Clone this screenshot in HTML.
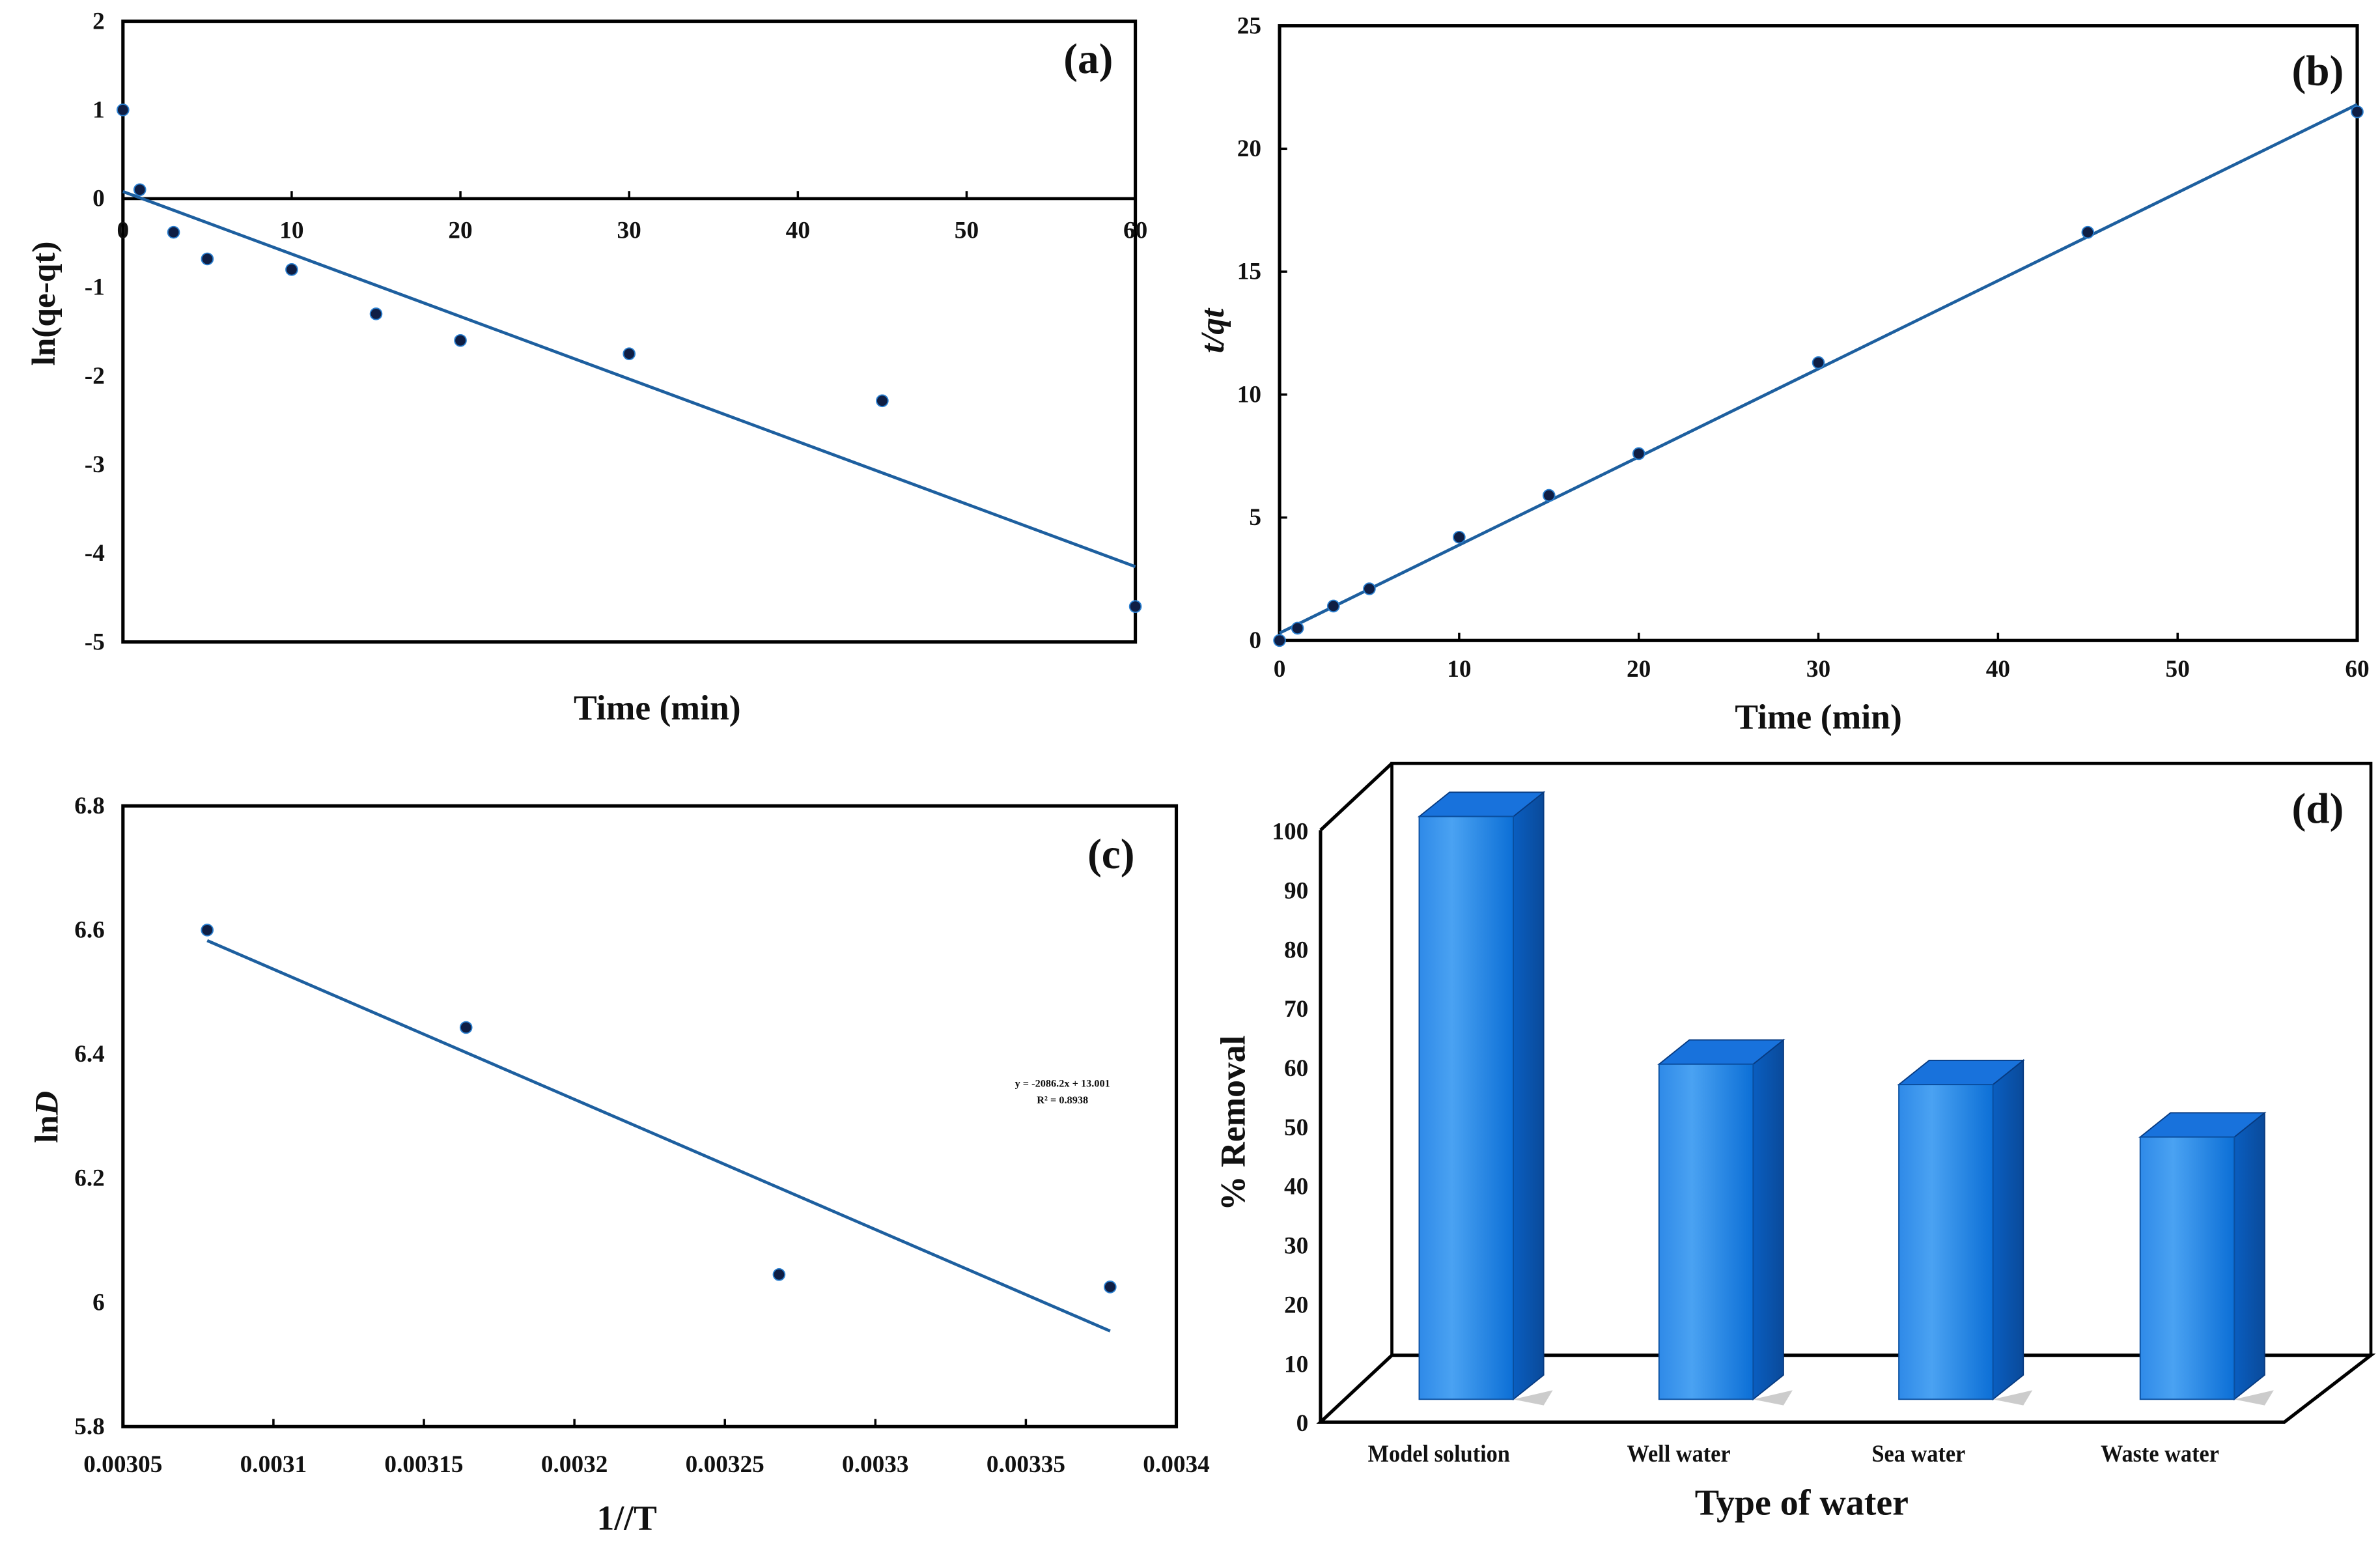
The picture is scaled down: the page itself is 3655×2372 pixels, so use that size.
<!DOCTYPE html>
<html><head><meta charset="utf-8"><style>
html,body{margin:0;padding:0;background:#fff;}
svg{display:block;}
text{font-family:"Liberation Serif",serif;font-weight:bold;fill:#111;}
</style></head><body>
<svg id="fig" width="3655" height="2372" viewBox="0 0 1568 1018" preserveAspectRatio="none" xmlns="http://www.w3.org/2000/svg">
<defs>
<linearGradient id="gf" x1="0" y1="0" x2="1" y2="0"><stop offset="0" stop-color="#2f8ae8"/><stop offset="0.35" stop-color="#4aa2f2"/><stop offset="1" stop-color="#0c6fd6"/></linearGradient>
<linearGradient id="gs" x1="0" y1="0" x2="1" y2="0"><stop offset="0" stop-color="#0a5ec0"/><stop offset="1" stop-color="#0a4a9a"/></linearGradient>
</defs>
<g id="pa"></g>
<g id="pb"></g>
<g id="pc"></g>
<g id="pd"></g>
</svg>
<script>
// Panel (a)
const aTimes=[0,1,3,5,10,15,20,30,45,60];
const aValues=[1,0.1,-0.38,-0.68,-0.8,-1.3,-1.6,-1.75,-2.28,-4.6];
const aFitX=[0,60];
const aFitY=[0.08,-4.15];
const aYTicks=[2,1,0,-1,-2,-3,-4,-5];
const aXTicks=[0,10,20,30,40,50,60];
// Panel (b)
const bTimes=[0,1,3,5,10,15,20,30,45,60];
const bValues=[0,0.5,1.4,2.1,4.2,5.9,7.6,11.3,16.6,21.5];
const bFitX=[0,60];
const bFitY=[0.3,21.8];
const bYTicks=[0,5,10,15,20,25];
const bXTicks=[0,10,20,30,40,50,60];
// Panel (c)
const cX=[0.003078,0.003164,0.003268,0.003378];
const cY=[6.6,6.443,6.045,6.025];
const cFitX=[0.003078,0.003378];
const cFitY=[6.583,5.954];
const cYTicks=[5.8,6,6.2,6.4,6.6,6.8];
const cYTickLabels=["5.8","6","6.2","6.4","6.6","6.8"];
const cXTicks=[0.00305,0.0031,0.00315,0.0032,0.00325,0.0033,0.00335,0.0034];
const cXTickLabels=["0.00305","0.0031","0.00315","0.0032","0.00325","0.0033","0.00335","0.0034"];
// Panel (d)
const dCategories=["Model solution","Well water","Sea water","Waste water"];
const dValues=[100,57.5,54,45];
const dYTicks=[0,10,20,30,40,50,60,70,80,90,100];

const NS="http://www.w3.org/2000/svg";
function mk(parent,tag,attrs,txt){const e=document.createElementNS(NS,tag);for(const k in attrs)e.setAttribute(k,attrs[k]);if(txt!==undefined)e.textContent=txt;parent.appendChild(e);return e;}
function lin(d0,d1,r0,r1){return v=>r0+(v-d0)*(r1-r0)/(d1-d0);}

// ---------- Panel A ----------
(function(){
const g=document.getElementById('pa');
const L=81,R=748,T=14,B=423;
const x=lin(0,60,L,R), y=lin(2,-5,T,B);
let e=mk(g,'rect',{x:L,y:T,width:R-L,height:B-T,fill:'none',stroke:'#000','stroke-width':2.2});

e=mk(g,'line',{x1:L,x2:R,y1:y(0),y2:y(0),stroke:'#000','stroke-width':2});

aYTicks.forEach(v=>{e=mk(g,'text',{x:L-12,y:y(v)+5,'text-anchor':'end','font-size':16},String(v));
});
aXTicks.forEach(v=>{mk(g,'line',{x1:x(v),x2:x(v),y1:y(0),y2:y(0)-5,stroke:'#000','stroke-width':1.5});
e=mk(g,'text',{x:x(v),y:y(0)+26,'text-anchor':'middle','font-size':16},v);
});
e=mk(g,'line',{x1:x(aFitX[0]),y1:y(aFitY[0]),x2:x(aFitX[1]),y2:y(aFitY[1]),stroke:'#1d5f9f','stroke-width':2});

aTimes.forEach((t,i)=>{e=mk(g,'circle',{cx:x(t),cy:y(aValues[i]),r:3.8,fill:'#0f1e44',stroke:'#2a7fd0','stroke-width':0.8});
});
e=mk(g,'text',{x:36,y:200,'text-anchor':'middle','font-size':22,transform:'rotate(-90 36 200)'},'ln(qe-qt)');

e=mk(g,'text',{x:433,y:474,'text-anchor':'middle','font-size':23},'Time (min)');

e=mk(g,'text',{x:717,y:48,'text-anchor':'middle','font-size':28},'(a)');

})();

// ---------- Panel B ----------
(function(){
const g=document.getElementById('pb');
const L=843,R=1553,T=17,B=422;
const x=lin(0,60,L,R), y=lin(0,25,B,T);
let e=mk(g,'rect',{x:L,y:T,width:R-L,height:B-T,fill:'none',stroke:'#000','stroke-width':2.2});

bYTicks.forEach(v=>{mk(g,'line',{x1:L,x2:L+5,y1:y(v),y2:y(v),stroke:'#000','stroke-width':1.5});
e=mk(g,'text',{x:L-12,y:y(v)+5,'text-anchor':'end','font-size':16},v);
});
bXTicks.forEach(v=>{mk(g,'line',{x1:x(v),x2:x(v),y1:B,y2:B-5,stroke:'#000','stroke-width':1.5});
e=mk(g,'text',{x:x(v),y:B+24,'text-anchor':'middle','font-size':16},v);
});
e=mk(g,'line',{x1:x(bFitX[0]),y1:y(bFitY[0]),x2:x(bFitX[1]),y2:y(bFitY[1]),stroke:'#1d5f9f','stroke-width':2});

bTimes.forEach((t,i)=>{e=mk(g,'circle',{cx:x(t),cy:y(bValues[i]),r:3.8,fill:'#0f1e44',stroke:'#2a7fd0','stroke-width':0.8});
});
e=mk(g,'text',{x:806,y:218,'text-anchor':'middle','font-size':22,'font-style':'italic',transform:'rotate(-90 806 218)'},'t/qt');

e=mk(g,'text',{x:1198,y:480,'text-anchor':'middle','font-size':23},'Time (min)');

e=mk(g,'text',{x:1527,y:56,'text-anchor':'middle','font-size':28},'(b)');

})();

// ---------- Panel C ----------
(function(){
const g=document.getElementById('pc');
const L=81,R=775,T=531,B=940;
const x=lin(0.00305,0.0034,L,R), y=lin(5.8,6.8,B,T);
let e=mk(g,'rect',{x:L,y:T,width:R-L,height:B-T,fill:'none',stroke:'#000','stroke-width':2.2});

cYTicks.forEach((v,i)=>{e=mk(g,'text',{x:L-12,y:y(v)+5,'text-anchor':'end','font-size':16},cYTickLabels[i]);
});
cXTicks.forEach((v,i)=>{mk(g,'line',{x1:x(v),x2:x(v),y1:B,y2:B-5,stroke:'#000','stroke-width':1.5});
e=mk(g,'text',{x:x(v),y:B+30,'text-anchor':'middle','font-size':16},cXTickLabels[i]);
});
e=mk(g,'line',{x1:x(cFitX[0]),y1:y(cFitY[0]),x2:x(cFitX[1]),y2:y(cFitY[1]),stroke:'#1d5f9f','stroke-width':2});

cX.forEach((t,i)=>{e=mk(g,'circle',{cx:x(t),cy:y(cY[i]),r:3.8,fill:'#0f1e44',stroke:'#2a7fd0','stroke-width':0.8});
});
e=mk(g,'text',{x:700,y:716,'text-anchor':'middle','font-size':7,'font-weight':'normal'},'y = -2086.2x + 13.001');

e=mk(g,'text',{x:700,y:727,'text-anchor':'middle','font-size':7,'font-weight':'normal'},'R² = 0.8938');

e=mk(g,'text',{x:38,y:736,'text-anchor':'middle','font-size':22,transform:'rotate(-90 38 736)'},'ln');

mk(e,'tspan',{'font-style':'italic'},'D');
e=mk(g,'text',{x:413,y:1008,'text-anchor':'middle','font-size':23},'1//T');

e=mk(g,'text',{x:732,y:572,'text-anchor':'middle','font-size':28},'(c)');

})();

// ---------- Panel D ----------
(function(){
const g=document.getElementById('pd');
const fl=870, fb=937, ft=547, dx=47, dy=-44, fr=1505;
const y=lin(0,100,fb,ft);
let e=mk(g,'path',{d:`M${fl+dx},${fb+dy} L${fl+dx},${ft+dy} L${fr+dx+10},${ft+dy} L${fr+dx+10},${fb+dy}`,fill:'none',stroke:'#000','stroke-width':2});

e=mk(g,'path',{d:`M${fl},${ft} L${fl+dx},${ft+dy} M${fl},${fb} L${fl+dx},${fb+dy} L${fr+dx+10},${fb+dy} L${fr},${fb} L${fl},${fb} Z M${fl},${ft} L${fl},${fb}`,fill:'none',stroke:'#000','stroke-width':2.2});

dYTicks.forEach(v=>{e=mk(g,'text',{x:fl-8,y:y(v)+6,'text-anchor':'end','font-size':16},v);
});
const base=922, top100=538, bw=62, bdx=20, bdy=-16;
const yb=lin(0,100,base,top100);
const centers=[966,1124,1282,1441];
dCategories.forEach((c,i)=>{
 const cx=centers[i], x0=cx-bw/2, x1=cx+bw/2, yt=yb(dValues[i]);
 const grp=mk(g,'g',{});
 
 
 mk(grp,'path',{d:`M${x1},${base} L${x1+bdx+6},${base-6} L${x1+bdx},${base+4} Z`,fill:'#9a9a9a',opacity:0.5});
 mk(grp,'path',{d:`M${x1},${yt} L${x1+bdx},${yt+bdy} L${x1+bdx},${base+bdy} L${x1},${base} Z`,fill:'url(#gs)',stroke:'#073a80','stroke-width':0.8});
 mk(grp,'path',{d:`M${x0},${yt} L${x0+bdx},${yt+bdy} L${x1+bdx},${yt+bdy} L${x1},${yt} Z`,fill:'#1872dc',stroke:'#073a80','stroke-width':0.8});
 mk(grp,'rect',{x:x0,y:yt,width:bw,height:base-yt,fill:'url(#gf)',stroke:'#0a4fa0','stroke-width':0.8});
 e=mk(g,'text',{x:cx-18,y:963,'text-anchor':'middle','font-size':16,transform:`translate(${(cx-18)*0.08},0) scale(0.92,1)`},c);
 
});
e=mk(g,'text',{x:820,y:740,'text-anchor':'middle','font-size':23,transform:'rotate(-90 820 740)'},'% Removal');

e=mk(g,'text',{x:1187,y:998,'text-anchor':'middle','font-size':24},'Type of water');

e=mk(g,'text',{x:1527,y:542,'text-anchor':'middle','font-size':28},'(d)');

})();
</script>
</body></html>
